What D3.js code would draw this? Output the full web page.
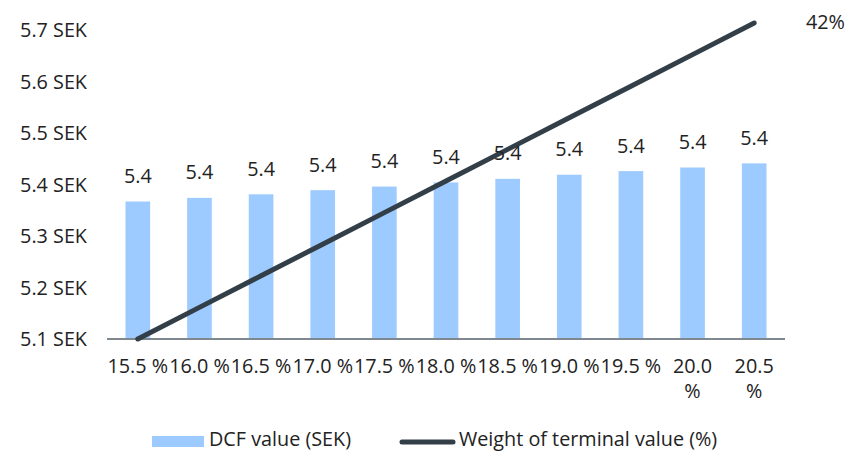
<!DOCTYPE html>
<html><head><meta charset="utf-8">
<script src="https://cdn.jsdelivr.net/npm/d3@7"></script>
<style>body{margin:0;background:#fff}svg{display:block}text{font-family:"Open Sans",sans-serif;fill:#222}</style>
</head><body><svg id="c" width="847" height="452"></svg>
<script>
const categories = ["15.5 %","16.0 %","16.5 %","17.0 %","17.5 %","18.0 %","18.5 %","19.0 %","19.5 %","20.0 %","20.5 %"];
const dcfValues = [5.367,5.374,5.381,5.389,5.396,5.404,5.411,5.419,5.426,5.433,5.441];
const weightValues = [31.0,32.1,33.2,34.3,35.4,36.5,37.6,38.7,39.8,40.9,42.0];
const yTicks = [5.1,5.2,5.3,5.4,5.5,5.6,5.7];
const y2Ticks = [42];
const wrapped = ["20.0 %","20.5 %"];

(function(){
const svg = d3.select("#c");
const FS = 19.8;
const pL = 107, pR = 785, pT = 30, pB = 339;
const x = d3.scaleBand().domain(categories).range([pL, pR]).paddingInner(0.6).paddingOuter(0.3);
const y = d3.scaleLinear().domain([5.1, 5.7]).range([pB, pT]);
const y2 = d3.scaleLinear().domain([31, 42]).range([pB, 23]);

// bars
svg.append("g").selectAll("rect").data(categories).join("rect")
  .attr("x", d => x(d)).attr("width", x.bandwidth())
  .attr("y", (d,i) => y(dcfValues[i])).attr("height", (d,i) => pB - y(dcfValues[i]))
  .attr("fill", "#9ecbff");

// baseline axis
const xAxis = svg.append("g").attr("transform", `translate(0,${pB})`)
  .call(d3.axisBottom(x).tickSize(0).tickFormat(""));
xAxis.select(".domain").attr("stroke", "#7f878f").attr("stroke-width", 2).attr("d", `M${pL},0H${pR}`);

// x labels
const xl = svg.append("g");
categories.forEach(c => {
  const cx = x(c) + x.bandwidth()/2;
  if (wrapped.includes(c)) {
    const parts = c.split(" ");
    xl.append("text").attr("x", cx).attr("y", 373).attr("text-anchor","middle").attr("font-size",FS).text(parts[0]);
    xl.append("text").attr("x", cx).attr("y", 398).attr("text-anchor","middle").attr("font-size",FS).text(parts[1]);
  } else {
    xl.append("text").attr("x", cx).attr("y", 373).attr("text-anchor","middle").attr("font-size",FS).text(c);
  }
});

// left axis
const yAxis = svg.append("g").attr("transform", `translate(87,0)`)
  .call(d3.axisLeft(y).tickValues(yTicks).tickSize(0).tickPadding(0).tickFormat(d => d3.format(".1f")(d) + " SEK"));
yAxis.select(".domain").remove();
yAxis.selectAll("text").attr("font-size", FS).attr("font-family", '"Open Sans",sans-serif').attr("fill", "#222").attr("dy", "0.33em");

// right axis
const y2Axis = svg.append("g").attr("transform", `translate(806,0)`)
  .call(d3.axisRight(y2).tickValues(y2Ticks).tickSize(0).tickPadding(0).tickFormat(d => d + "%"));
y2Axis.select(".domain").remove();
y2Axis.selectAll("text").attr("font-size", FS).attr("font-family", '"Open Sans",sans-serif').attr("fill", "#222").attr("dy", "0.3em");

// line
const line = d3.line().x((d,i) => x(categories[i]) + x.bandwidth()/2).y(d => y2(d));
svg.append("path").datum(weightValues).attr("d", line)
  .attr("fill","none").attr("stroke","#333f48").attr("stroke-width",5).attr("stroke-linecap","round");

// bar labels
svg.append("g").selectAll("text").data(categories).join("text")
  .attr("x", d => x(d) + x.bandwidth()/2).attr("y", (d,i) => y(dcfValues[i]) - 18.5)
  .attr("text-anchor","middle").attr("font-size",FS).attr("fill","#111")
  .text((d,i) => d3.format(".1f")(dcfValues[i]));

// legend
const lg = svg.append("g");
lg.append("rect").attr("x",152).attr("y",436).attr("width",52).attr("height",11).attr("fill","#9ecbff");
lg.append("text").attr("x",209).attr("y",446).attr("font-size",FS).text("DCF value (SEK)");
lg.append("line").attr("x1",402).attr("x2",453).attr("y1",442).attr("y2",442).attr("stroke","#333f48").attr("stroke-width",5).attr("stroke-linecap","round");
lg.append("text").attr("x",459).attr("y",446).attr("font-size",FS).text("Weight of terminal value (%)");
})();
</script></body></html>
